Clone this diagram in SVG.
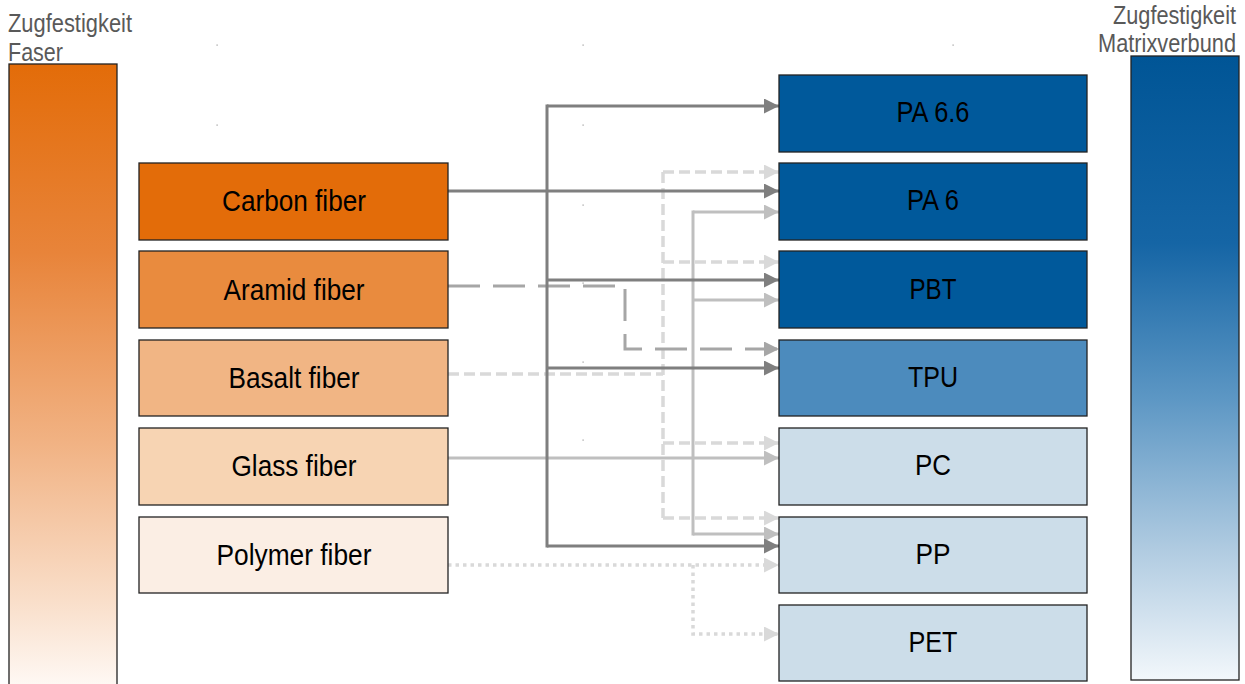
<svg xmlns="http://www.w3.org/2000/svg" width="1245" height="684" viewBox="0 0 1245 684">
<defs>
<linearGradient id="gFaser" x1="0" y1="0" x2="0" y2="1">
<stop offset="0" stop-color="#E36C09"/>
<stop offset="0.3" stop-color="#E8843A"/>
<stop offset="0.6" stop-color="#F1B283"/>
<stop offset="0.85" stop-color="#F9DEC9"/>
<stop offset="1" stop-color="#FFFBF8"/>
</linearGradient>
<linearGradient id="gMatrix" x1="0" y1="0" x2="0" y2="1">
<stop offset="0" stop-color="#005596"/>
<stop offset="0.3" stop-color="#1565A5"/>
<stop offset="0.55" stop-color="#5D97C4"/>
<stop offset="0.8" stop-color="#B3CDE2"/>
<stop offset="1" stop-color="#F2F7FB"/>
</linearGradient>
<marker id="aDark" markerUnits="userSpaceOnUse" markerWidth="16" markerHeight="16" refX="15" refY="7.5" orient="auto"><path d="M0,0 L15,7.5 L0,15 z" fill="#7F7F7F"/></marker>
<marker id="aAramid" markerUnits="userSpaceOnUse" markerWidth="16" markerHeight="16" refX="15" refY="7.5" orient="auto"><path d="M0,0 L15,7.5 L0,15 z" fill="#A6A6A6"/></marker>
<marker id="aLight" markerUnits="userSpaceOnUse" markerWidth="16" markerHeight="16" refX="15" refY="7.5" orient="auto"><path d="M0,0 L15,7.5 L0,15 z" fill="#D9D9D9"/></marker>
<marker id="aGlass" markerUnits="userSpaceOnUse" markerWidth="16" markerHeight="16" refX="15" refY="7.5" orient="auto"><path d="M0,0 L15,7.5 L0,15 z" fill="#BFBFBF"/></marker>
</defs>
<style>
.box{stroke:#222;stroke-width:1.3}
.lbl{font-family:"Liberation Sans",Arial,sans-serif;font-size:29px;fill:#000;text-anchor:middle}
.ttl{font-family:"Liberation Sans",Arial,sans-serif;font-size:25px;fill:#595959}
.c{fill:none}
.dark{stroke:#7F7F7F;stroke-width:3}
.aramid{stroke:#A6A6A6;stroke-width:3;stroke-dasharray:32 13}
.basalt{stroke:#D9D9D9;stroke-width:3.5;stroke-dasharray:11 5}
.glass{stroke:#BFBFBF;stroke-width:3}
.poly{stroke:#D9D9D9;stroke-width:3.5;stroke-dasharray:3.5 4}
.dot{fill:#999}
</style>

<g id="dots">
<rect class="dot" x="216.5" y="44.5" width="1.2" height="1.2"/>
<rect class="dot" x="582.5" y="44.5" width="1.2" height="1.2"/>
<rect class="dot" x="952.5" y="44.5" width="1.2" height="1.2"/>
<rect class="dot" x="216.5" y="124.5" width="1.2" height="1.2"/>
<rect class="dot" x="582.5" y="124.5" width="1.2" height="1.2"/>
<rect class="dot" x="582.5" y="204.5" width="1.2" height="1.2"/>
<rect class="dot" x="582.5" y="282.5" width="1.2" height="1.2"/>
<rect class="dot" x="582.5" y="361.5" width="1.2" height="1.2"/>
<rect class="dot" x="216.5" y="439.5" width="1.2" height="1.2"/>
<rect class="dot" x="582.5" y="439.5" width="1.2" height="1.2"/>
<rect class="dot" x="952.5" y="439.5" width="1.2" height="1.2"/>
</g>

<g id="bar-faser">
<rect x="9" y="64" width="108" height="630" fill="url(#gFaser)" class="box"/>
<text class="ttl" x="8" y="32" textLength="124" lengthAdjust="spacingAndGlyphs">Zugfestigkeit</text>
<text class="ttl" x="8" y="61" textLength="55" lengthAdjust="spacingAndGlyphs">Faser</text>
</g>

<g id="bar-matrix">
<rect x="1131" y="56" width="108" height="624" fill="url(#gMatrix)" class="box"/>
<text class="ttl" x="1113" y="24" textLength="123" lengthAdjust="spacingAndGlyphs">Zugfestigkeit</text>
<text class="ttl" x="1098" y="52" textLength="138" lengthAdjust="spacingAndGlyphs">Matrixverbund</text>
</g>

<g id="connectors">
<path class="c poly" d="M448,565 H779" marker-end="url(#aLight)"/>
<path class="c poly" d="M693,565 V634 H779" marker-end="url(#aLight)"/>
<path class="c basalt" d="M448,374 H663"/>
<path class="c basalt" d="M663,172 V518"/>
<path class="c basalt" d="M663,172 H779" marker-end="url(#aLight)"/>
<path class="c basalt" d="M663,262 H779" marker-end="url(#aLight)"/>
<path class="c basalt" d="M663,443 H779" marker-end="url(#aLight)"/>
<path class="c basalt" d="M663,518 H779" marker-end="url(#aLight)"/>
<path class="c glass" d="M448,458 H779" marker-end="url(#aGlass)"/>
<path class="c glass" d="M693,210.5 V535.5"/>
<path class="c glass" d="M693,212 H779" marker-end="url(#aGlass)"/>
<path class="c glass" d="M693,300 H779" marker-end="url(#aGlass)"/>
<path class="c glass" d="M693,534 H779" marker-end="url(#aGlass)"/>
<path class="c aramid" d="M448,286 H625 V349 H779" marker-end="url(#aAramid)"/>
<path class="c dark" d="M448,191 H779" marker-end="url(#aDark)"/>
<path class="c dark" d="M547,104.5 V547.5"/>
<path class="c dark" d="M547,106 H779" marker-end="url(#aDark)"/>
<path class="c dark" d="M547,280 H779" marker-end="url(#aDark)"/>
<path class="c dark" d="M547,368 H779" marker-end="url(#aDark)"/>
<path class="c dark" d="M547,546 H779" marker-end="url(#aDark)"/>
</g>

<g id="carbon"><rect class="box" x="139" y="163" width="309" height="77" fill="#E36C09"/><text class="lbl" x="294" y="211" textLength="144" lengthAdjust="spacingAndGlyphs">Carbon fiber</text></g>
<g id="aramid"><rect class="box" x="139" y="251" width="309" height="77" fill="#E98B3E"/><text class="lbl" x="294" y="299.5" textLength="141" lengthAdjust="spacingAndGlyphs">Aramid fiber</text></g>
<g id="basalt"><rect class="box" x="139" y="340" width="309" height="76" fill="#F1B584"/><text class="lbl" x="294" y="388" textLength="131" lengthAdjust="spacingAndGlyphs">Basalt fiber</text></g>
<g id="glass"><rect class="box" x="139" y="428" width="309" height="77" fill="#F7D4B3"/><text class="lbl" x="294" y="476" textLength="125" lengthAdjust="spacingAndGlyphs">Glass fiber</text></g>
<g id="polymer"><rect class="box" x="139" y="517" width="309" height="76" fill="#FBEEE4"/><text class="lbl" x="294" y="565" textLength="155" lengthAdjust="spacingAndGlyphs">Polymer fiber</text></g>

<g id="pa66"><rect class="box" x="779" y="75" width="308" height="77" fill="#00599B"/><text class="lbl" x="933" y="122" textLength="73" lengthAdjust="spacingAndGlyphs">PA 6.6</text></g>
<g id="pa6"><rect class="box" x="779" y="163" width="308" height="77" fill="#00599B"/><text class="lbl" x="933" y="210" textLength="52" lengthAdjust="spacingAndGlyphs">PA 6</text></g>
<g id="pbt"><rect class="box" x="779" y="251" width="308" height="77" fill="#00599B"/><text class="lbl" x="933" y="298.5" textLength="47" lengthAdjust="spacingAndGlyphs">PBT</text></g>
<g id="tpu"><rect class="box" x="779" y="340" width="308" height="76" fill="#4C8BBD"/><text class="lbl" x="933" y="387" textLength="50" lengthAdjust="spacingAndGlyphs">TPU</text></g>
<g id="pc"><rect class="box" x="779" y="428" width="308" height="77" fill="#CCDDE9"/><text class="lbl" x="933" y="475" textLength="36" lengthAdjust="spacingAndGlyphs">PC</text></g>
<g id="pp"><rect class="box" x="779" y="517" width="308" height="76" fill="#CCDDE9"/><text class="lbl" x="933" y="564" textLength="35" lengthAdjust="spacingAndGlyphs">PP</text></g>
<g id="pet"><rect class="box" x="779" y="605" width="308" height="76" fill="#CCDDE9"/><text class="lbl" x="933" y="652" textLength="49" lengthAdjust="spacingAndGlyphs">PET</text></g>
</svg>
